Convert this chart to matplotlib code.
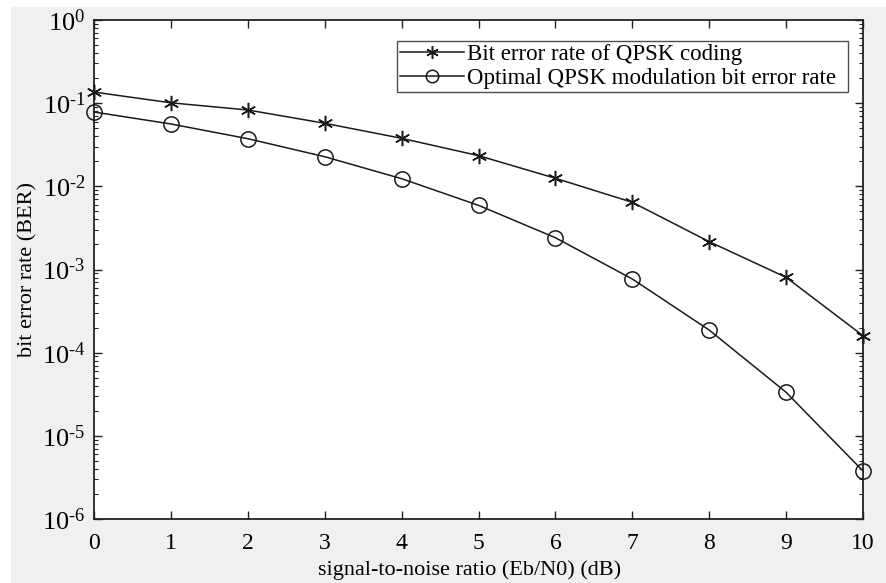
import matplotlib
matplotlib.use("Agg")
import matplotlib.pyplot as plt
from matplotlib.patches import Rectangle
from matplotlib.ticker import LogLocator, FixedLocator, FixedFormatter, NullFormatter

plt.rcParams['font.family'] = ['Liberation Serif', 'DejaVu Serif']
plt.rcParams['mathtext.fontset'] = 'custom'
plt.rcParams['mathtext.rm'] = 'Liberation Serif'
plt.rcParams['mathtext.it'] = 'Liberation Serif:italic'

snr = [0, 1, 2, 3, 4, 5, 6, 7, 8, 9, 10]
ber_coding = [0.136, 0.101, 0.0828, 0.0573, 0.0378, 0.0234, 0.0125, 0.00643, 0.00216, 0.000805, 0.00016]
ber_optimal = [0.0783, 0.0562, 0.0374, 0.0227, 0.01236, 0.00591, 0.00241, 0.000769, 0.000187, 3.34e-5, 3.78e-6]
label_coding = "Bit error rate of QPSK coding"
label_optimal = "Optimal QPSK modulation bit error rate"
xlabel = "signal-to-noise ratio (Eb/N0) (dB)"
ylabel = "bit error rate (BER)"
y_exps = [0, -1, -2, -3, -4, -5, -6]

W, H = 886, 583
fig = plt.figure(figsize=(W / 100, H / 100), dpi=100, facecolor='white')
fig.patches.append(Rectangle((11 / W, 0), 1 - 11 / W, 1 - 7 / H, transform=fig.transFigure,
                             facecolor='#f0f0f0', edgecolor='none', zorder=-10))
ax = fig.add_axes([94 / W, 1 - 519 / H, (863 - 94) / W, (519 - 20) / H])
ax.set_facecolor('white')

ax.semilogy(snr, ber_coding, color='#1a1a1a', lw=1.1, marker=(6, 2, 0), ms=11, mew=1.1,
            label=label_coding, clip_on=False, zorder=3)
ax.semilogy(snr, ber_optimal, color='#1a1a1a', lw=1.1, marker='o', ms=11, mew=1.1,
            mfc='none', label=label_optimal, clip_on=False, zorder=3)

ax.set_xlim(0, 10)
ax.set_ylim(1e-6, 1)
ax.set_xticks(snr)
ax.set_xticklabels([str(v) for v in snr])
ax.yaxis.set_major_locator(FixedLocator([10.0 ** e for e in y_exps]))
ax.yaxis.set_major_formatter(FixedFormatter([r'$\mathregular{10^{\text{%d}}}$' % e for e in y_exps]))
ax.yaxis.set_minor_locator(LogLocator(base=10, subs=range(2, 10), numticks=20))
ax.yaxis.set_minor_formatter(NullFormatter())

ax.tick_params(which='both', direction='in', top=True, right=True, colors='#222222',
               labelcolor='black')
ax.tick_params(which='major', length=6, width=1.0)
ax.tick_params(which='minor', length=3, width=0.8)
ax.tick_params(axis='x', labelsize=17, pad=10)
ax.tick_params(axis='y', labelsize=19, pad=6)
for s in ax.spines.values():
    s.set_linewidth(1.3)
    s.set_color('#222222')

ax.set_xlabel(xlabel, fontsize=16)
ax.xaxis.set_label_coords((469.5 - 94) / (863 - 94), -(570 - 519) / (519 - 20))
ax.xaxis.label.set_va('center')
ax.set_ylabel(ylabel, fontsize=16)
ax.yaxis.set_label_coords(-(94 - 28) / (863 - 94), 0.5)
ax.yaxis.label.set_va('center')

leg = ax.legend(loc='upper left', bbox_to_anchor=(397 / W, 1 - 92 / H, 451 / W, 51 / H),
                bbox_transform=fig.transFigure, mode='expand',
                fontsize=16.5, frameon=True, fancybox=False, handlelength=2.8,
                borderpad=0.12, labelspacing=0.15, handletextpad=0.15, borderaxespad=0)
leg.get_frame().set_edgecolor('#222222')
leg.get_frame().set_linewidth(1.0)
for h in leg.legend_handles:
    h.set_markersize(9)

fig.savefig('out.png', dpi=100, facecolor=fig.get_facecolor())
